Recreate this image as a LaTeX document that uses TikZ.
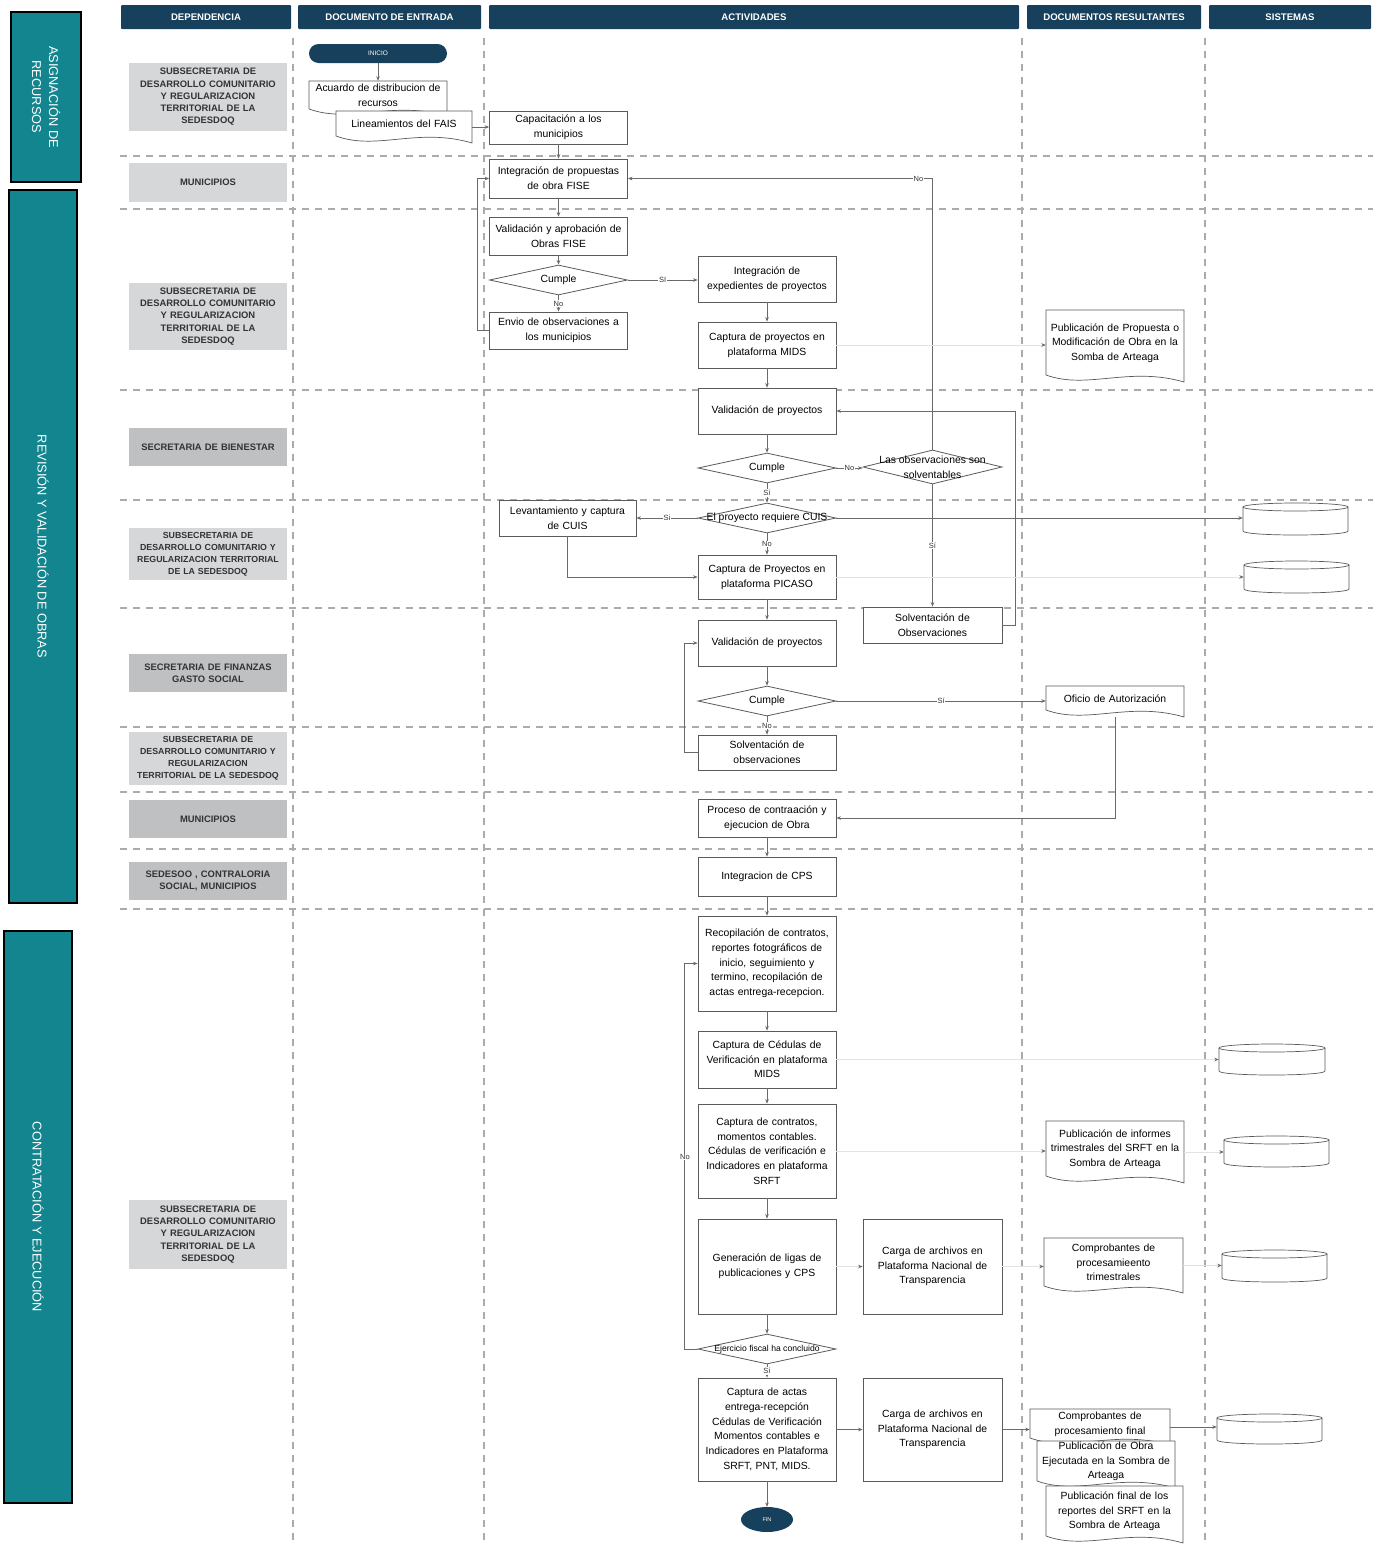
\documentclass[tikz,border=0pt]{standalone}
\usepackage{fontspec}
\setmainfont{Liberation Sans}
\usetikzlibrary{shapes.geometric,arrows.meta,calc}
\definecolor{navy}{HTML}{16405C}
\definecolor{teal1}{HTML}{13858F}
\definecolor{graybox}{HTML}{D5D7D9}
\definecolor{graybox2}{HTML}{BEC0C2}
\definecolor{boxc}{HTML}{5A5A5A}
\definecolor{linec}{HTML}{6A6A6A}
\definecolor{dashc}{HTML}{ABABAB}
\definecolor{deptext}{HTML}{333333}
\newcommand\fa{\fontsize{10.4}{14.7}\selectfont}
\newcommand\fdep{\fontsize{9.4}{12.2}\selectfont\bfseries}
\newcommand\fdeps{\fontsize{8.8}{12}\selectfont\bfseries}
\newcommand\docshape[6]{%
  \pgfmathsetmacro\dw{#4-#2-6}%
  \pgfmathsetmacro\dww{#4-#2}%
  \pgfmathsetmacro\dh{#5-#3}%
  \path[draw=boxc, line width=0.7pt, fill=white] (#2,#3) -- (#4,#3) -- (#4,#5)
     .. controls ({#2+0.6*(#4-#2)},{#5-16}) and ({#2+0.3*(#4-#2)},{#5+8}) .. (#2,{#5-7}) -- cycle;
  \node[inner sep=0pt, minimum width=\dww pt, minimum height=\dh pt,
        label={[doctext, text width=\dw pt, yshift=3pt]center:{#6}}] (#1) at ({(#2+#4)/2},{(#3+#5)/2}) {};
}
\newcommand\dbcyl[5]{%
  \pgfmathsetmacro\cw{#4-#2}%
  \pgfmathsetmacro\ch{#5-#3}%
  \pgfmathsetmacro\crx{(#4-#2)/2}%
  \node[inner sep=0pt, minimum width=\cw pt, minimum height=\ch pt] (#1) at ({(#2+#4)/2},{(#3+#5)/2}) {};
  \draw[boxc, line width=0.7pt, fill=white] (#2,{#3+4}) -- (#2,{#5-4}) .. controls (#2,{#5+1.33}) and (#4,{#5+1.33}) .. (#4,{#5-4}) -- (#4,{#3+4});
  \draw[boxc, line width=0.7pt] ({(#2+#4)/2},{#3+4}) ellipse [x radius=\crx pt, y radius=4pt];
}
\begin{document}
\begin{tikzpicture}[x=1pt,y=-1pt,
  side/.style={rectangle, draw=black, line width=1.6pt, fill=teal1, inner sep=0pt},
  sidetxt/.style={rotate=-90, text=white, align=center, font=\fontsize{12.8}{17}\selectfont},
  hdr/.style={rectangle, fill=navy, text=white, font=\fontsize{9.6}{10}\selectfont\bfseries, minimum height=24pt, inner sep=0pt, rounded corners=1pt},
  dep/.style={rectangle, fill=graybox, text=deptext, font=\fdep, align=center, text width=156pt, minimum width=158pt, inner sep=1pt},
  dep2/.style={dep, fill=graybox2},
  lane/.style={draw=dashc, line width=1.1pt, dash pattern=on 7pt off 6pt},
  proc/.style={rectangle, draw=boxc, line width=0.8pt, fill=white, align=center, font=\fa, inner sep=0pt, text width=133pt, minimum width=138pt},
  dec/.style={diamond, draw=boxc, line width=0.8pt, fill=white, aspect=4.6, inner sep=0pt, minimum width=138pt, minimum height=30pt},
  dectxt/.style={font=\fa, align=center},
  doctext/.style={font=\fa, align=center, inner sep=0pt},
  term/.style={fill=navy, text=white, inner sep=0pt},
  conn/.style={draw=linec, line width=0.7pt, -{Stealth[length=4.5pt,width=3.6pt]}},
  faint/.style={draw=black!11, line width=0.7pt, -{Stealth[length=4.5pt,width=3.6pt,color=linec]}},
  lbl/.style={font=\fontsize{7.5}{8}\selectfont, text=black!80, fill=white, inner sep=0.8pt}
]
\useasboundingbox (0,0) rectangle (1373,1545);
\fill[white] (0,0) rectangle (1373,1545);

% lanes
\foreach \x in {293,484,1022,1205} \draw[lane] (\x,38) -- (\x,1545);
\foreach \y in {156,209,390,500,608,727,792,849,909} \draw[lane] (120,\y) -- (1373,\y);

% side boxes
\node[side, minimum width=70pt, minimum height=170pt, label={[sidetxt]center:{ASIGNACIÓN DE\\RECURSOS}}] (sb1) at (46,97) {};
\node[side, minimum width=68pt, minimum height=713pt, label={[sidetxt]center:{REVISIÓN Y VALIDACIÓN DE OBRAS}}] (sb2) at (43,546.5) {};
\node[side, minimum width=68pt, minimum height=572pt, label={[sidetxt]center:{CONTRATACIÓN Y EJECUCIÓN}}] (sb3) at (38,1217) {};

% headers
\node[hdr, minimum width=170pt] (h1) at (206,17) {DEPENDENCIA};
\node[hdr, minimum width=183pt] (h2) at (389.5,17) {DOCUMENTO DE ENTRADA};
\node[hdr, minimum width=530pt] (h3) at (754,17) {ACTIVIDADES};
\node[hdr, minimum width=174pt] (h4) at (1114,17) {DOCUMENTOS RESULTANTES};
\node[hdr, minimum width=162pt] (h5) at (1290,17) {SISTEMAS};

% dependencias
\node[dep, minimum height=68pt] (d1) at (208,97) {SUBSECRETARIA DE\\DESARROLLO COMUNITARIO\\Y REGULARIZACION\\TERRITORIAL DE LA\\SEDESDOQ};
\node[dep, minimum height=39pt] (d2) at (208,182.5) {MUNICIPIOS};
\node[dep, minimum height=67pt] (d3) at (208,316.5) {SUBSECRETARIA DE\\DESARROLLO COMUNITARIO\\Y REGULARIZACION\\TERRITORIAL DE LA\\SEDESDOQ};
\node[dep2, minimum height=38pt] (d4) at (208,447) {SECRETARIA DE BIENESTAR};
\node[dep, font=\fdeps, minimum height=52pt] (d5) at (208,554) {SUBSECRETARIA DE\\DESARROLLO COMUNITARIO Y\\REGULARIZACION TERRITORIAL\\DE LA SEDESDOQ};
\node[dep2, minimum height=38pt] (d6) at (208,673) {SECRETARIA DE FINANZAS\\GASTO SOCIAL};
\node[dep, font=\fdeps, minimum height=53pt] (d7) at (208,758.5) {SUBSECRETARIA DE\\DESARROLLO COMUNITARIO Y\\REGULARIZACION\\TERRITORIAL DE LA SEDESDOQ};
\node[dep2, minimum height=38pt] (d8) at (208,819) {MUNICIPIOS};
\node[dep2, minimum height=38pt] (d9) at (208,881) {SEDESOO , CONTRALORIA\\SOCIAL, MUNICIPIOS};
\node[dep, minimum height=69pt] (d10) at (208,1234.5) {SUBSECRETARIA DE\\DESARROLLO COMUNITARIO\\Y REGULARIZACION\\TERRITORIAL DE LA\\SEDESDOQ};

% documento de entrada
\node[term, rounded corners=9.5pt, minimum width=138pt, minimum height=19pt, font=\fontsize{6.5}{7}\selectfont] (inicio) at (378,53.5) {INICIO};
\docshape{acu}{309}{81}{447}{116}{Acuardo de distribucion de\\recursos}
\docshape{lin}{336}{111}{472}{143}{Lineamientos del FAIS}

% actividades
\node[proc, minimum height=33pt] (cap) at (558.5,127.5) {Capacitación a los\\municipios};
\node[proc, minimum height=39pt] (intp) at (558.5,178.5) {Integración de propuestas\\de obra FISE};
\node[proc, minimum height=38pt] (valf) at (558.5,236) {Validación y aprobación de\\Obras FISE};
\node[dec, label={[dectxt]center:Cumple}] (c1) at (558.5,280) {};
\node[proc, minimum height=37pt] (envio) at (558.5,330.5) {Envio de observaciones a\\los municipios};
\node[proc, minimum height=46pt] (exped) at (767,279) {Integración de\\expedientes de proyectos};
\node[proc, minimum height=46pt] (mids) at (767,345) {Captura de proyectos en\\plataforma MIDS};
\node[proc, minimum height=46pt] (valp) at (767,411) {Validación de proyectos};
\node[dec, label={[dectxt]center:Cumple}] (c2) at (767,468) {};
\node[dec, minimum width=139pt, minimum height=34pt, label={[dectxt]center:{Las observaciones son\\solventables}}] (obs) at (932.5,467) {};
\node[dec, label={[dectxt]center:{El proyecto requiere CUIS}}] (cuis) at (767,518) {};
\node[proc, text width=132pt, minimum width=137pt, minimum height=36pt] (lev) at (567.5,518) {Levantamiento y captura\\de CUIS};
\node[proc, minimum height=44pt] (picaso) at (767,577) {Captura de Proyectos en\\plataforma PICASO};
\node[proc, minimum width=139pt, minimum height=36pt] (solvO) at (932.5,625) {Solventación de\\Observaciones};
\node[proc, minimum height=46pt] (valp2) at (767,643) {Validación de proyectos};
\node[dec, label={[dectxt]center:Cumple}] (c3) at (767,701) {};
\node[proc, minimum height=35pt] (solv2) at (767,752.5) {Solventación de\\observaciones};
\node[proc, minimum height=38pt] (proc) at (767,818) {Proceso de contraación y\\ejecucion de Obra};
\node[proc, minimum height=39pt] (cps) at (767,876.5) {Integracion de CPS};
\node[proc, minimum height=95pt] (recop) at (767,963.5) {Recopilación de contratos,\\reportes fotográficos de\\inicio, seguimiento y\\termino, recopilación de\\actas entrega-recepcion.};
\node[proc, minimum height=57pt] (cedulas) at (767,1059.5) {Captura de Cédulas de\\Verificación en plataforma\\MIDS};
\node[proc, minimum height=94pt] (contratos) at (767,1151) {Captura de contratos,\\momentos contables.\\Cédulas de verificación e\\Indicadores en plataforma\\SRFT};
\node[proc, minimum height=95pt] (gen) at (767,1266.5) {Generación de ligas de\\publicaciones y CPS};
\node[proc, minimum width=139pt, minimum height=95pt] (carga1) at (932.5,1266.5) {Carga de archivos en\\Plataforma Nacional de\\Transparencia};
\node[dec, label={[font=\fontsize{8.6}{10}\selectfont]center:{Ejercicio fiscal ha concluido}}] (ejer) at (767,1349) {};
\node[proc, minimum height=103pt] (actas) at (767,1429.5) {Captura de actas\\entrega-recepción\\Cédulas de Verificación\\Momentos contables e\\Indicadores en Plataforma\\SRFT, PNT, MIDS.};
\node[proc, minimum width=139pt, minimum height=103pt] (carga2) at (932.5,1429.5) {Carga de archivos en\\Plataforma Nacional de\\Transparencia};
\node[term, ellipse, minimum width=52pt, minimum height=25pt, font=\fontsize{5.5}{6}\selectfont] (fin) at (767,1519.5) {FIN};

% documentos resultantes
\docshape{pub1}{1046}{310}{1184}{382}{Publicación de Propuesta o\\Modificación de Obra en la\\Somba de Arteaga}
\docshape{ofi}{1046}{686}{1184}{717}{Oficio de Autorización}
\docshape{pubinf}{1046}{1121}{1184}{1183}{Publicación de informes\\trimestrales del SRFT en la\\Sombra de Arteaga}
\docshape{comptri}{1044}{1238}{1183}{1293}{Comprobantes de\\procesamieento\\trimestrales}
\docshape{compfin}{1030}{1409}{1170}{1445}{Comprobantes de\\procesamiento final}
\docshape{pubobra}{1037}{1441}{1175}{1488}{Publicación de Obra\\Ejecutada en la Sombra de\\Arteaga}
\docshape{pubfin}{1046}{1486}{1183}{1543}{Publicación final de los\\reportes del SRFT en la\\Sombra de Arteaga}

% sistemas
\dbcyl{s1}{1243}{503}{1348}{535}
\dbcyl{s2}{1244}{561}{1349}{593}
\dbcyl{s3}{1219}{1044}{1325}{1075}
\dbcyl{s4}{1224}{1136}{1329}{1167}
\dbcyl{s5}{1222}{1250}{1327}{1282}
\dbcyl{s6}{1217}{1414}{1322}{1444}

% connectors
\draw[conn] (inicio) -- (acu);
\draw[conn] (lin.east) -- (lin.east -| cap.west);
\draw[conn] (cap) -- (intp);
\draw[conn] (intp) -- (valf);
\draw[conn] (valf) -- (c1);
\draw[conn] (c1.east) -- node[lbl]{SI} (c1.east -| exped.west);
\draw[conn] (c1) -- node[lbl]{No} (envio);
\draw[conn] (envio.west) -- ++(-12,0) |- (intp.west);
\draw[conn] (obs.north) |- node[lbl, pos=0.523]{No} (intp.east);
\draw[conn] (exped) -- (mids);
\draw[conn] (mids) -- (valp);
\draw[conn] (valp) -- (c2);
\draw[conn] (c2.east) -- node[lbl]{No} (c2.east -| obs.west);
\draw[conn] (c2) -- node[lbl]{Sí} (cuis);
\draw[conn] (obs) -- node[lbl]{Sí} (solvO);
\draw[conn] (solvO.east) -- ++(13,0) |- (valp.east);
\draw[conn] (cuis.west) -- node[lbl]{Si} (cuis.west -| lev.east);
\draw[conn] (cuis.east) -- (cuis.east -| s1.west);
\draw[conn] (cuis) -- node[lbl]{No} (picaso);
\draw[conn] (lev.south) |- (picaso.west);
\draw[faint] (picaso.east) -- (picaso.east -| s2.west);
\draw[conn] (picaso) -- (valp2);
\draw[conn] (valp2) -- (c3);
\draw[conn] (c3.east) -- node[lbl]{Sí} (c3.east -| ofi.west);
\draw[conn] (c3) -- node[lbl]{No} (solv2);
\draw[conn] (solv2.west) -- ++(-13,0) |- (valp2.west);
\draw[conn] (ofi.south) |- (proc.east);
\draw[conn] (proc) -- (cps);
\draw[conn] (cps) -- (recop);
\draw[conn] (recop) -- (cedulas);
\draw[conn] (cedulas) -- (contratos);
\draw[conn] (contratos) -- (gen);
\draw[conn] (gen) -- (ejer);
\draw[conn] (ejer) -- node[lbl]{Sí} (actas);
\draw[conn] (actas) -- (fin);
\draw[conn] (ejer.west) -- ++(-13,0) |- (recop.west);
\node[lbl] (nolbl) at (685,1157) {No};
\draw[faint] (mids.east) -- (mids.east -| pub1.west);
\draw[faint] (cedulas.east) -- (cedulas.east -| s3.west);
\draw[faint] (contratos.east) -- (contratos.east -| pubinf.west);
\draw[faint] (pubinf.east) -- (pubinf.east -| s4.west);
\draw[faint] (gen.east) -- (carga1.west);
\draw[faint] (carga1.east) -- (carga1.east -| comptri.west);
\draw[faint] (comptri.east) -- (comptri.east -| s5.west);
\draw[conn] (actas) -- (carga2);
\draw[conn] (carga2.east) -- (carga2.east -| compfin.west);
\draw[conn] (compfin.east) -- (compfin.east -| s6.west);
\end{tikzpicture}
\end{document}
